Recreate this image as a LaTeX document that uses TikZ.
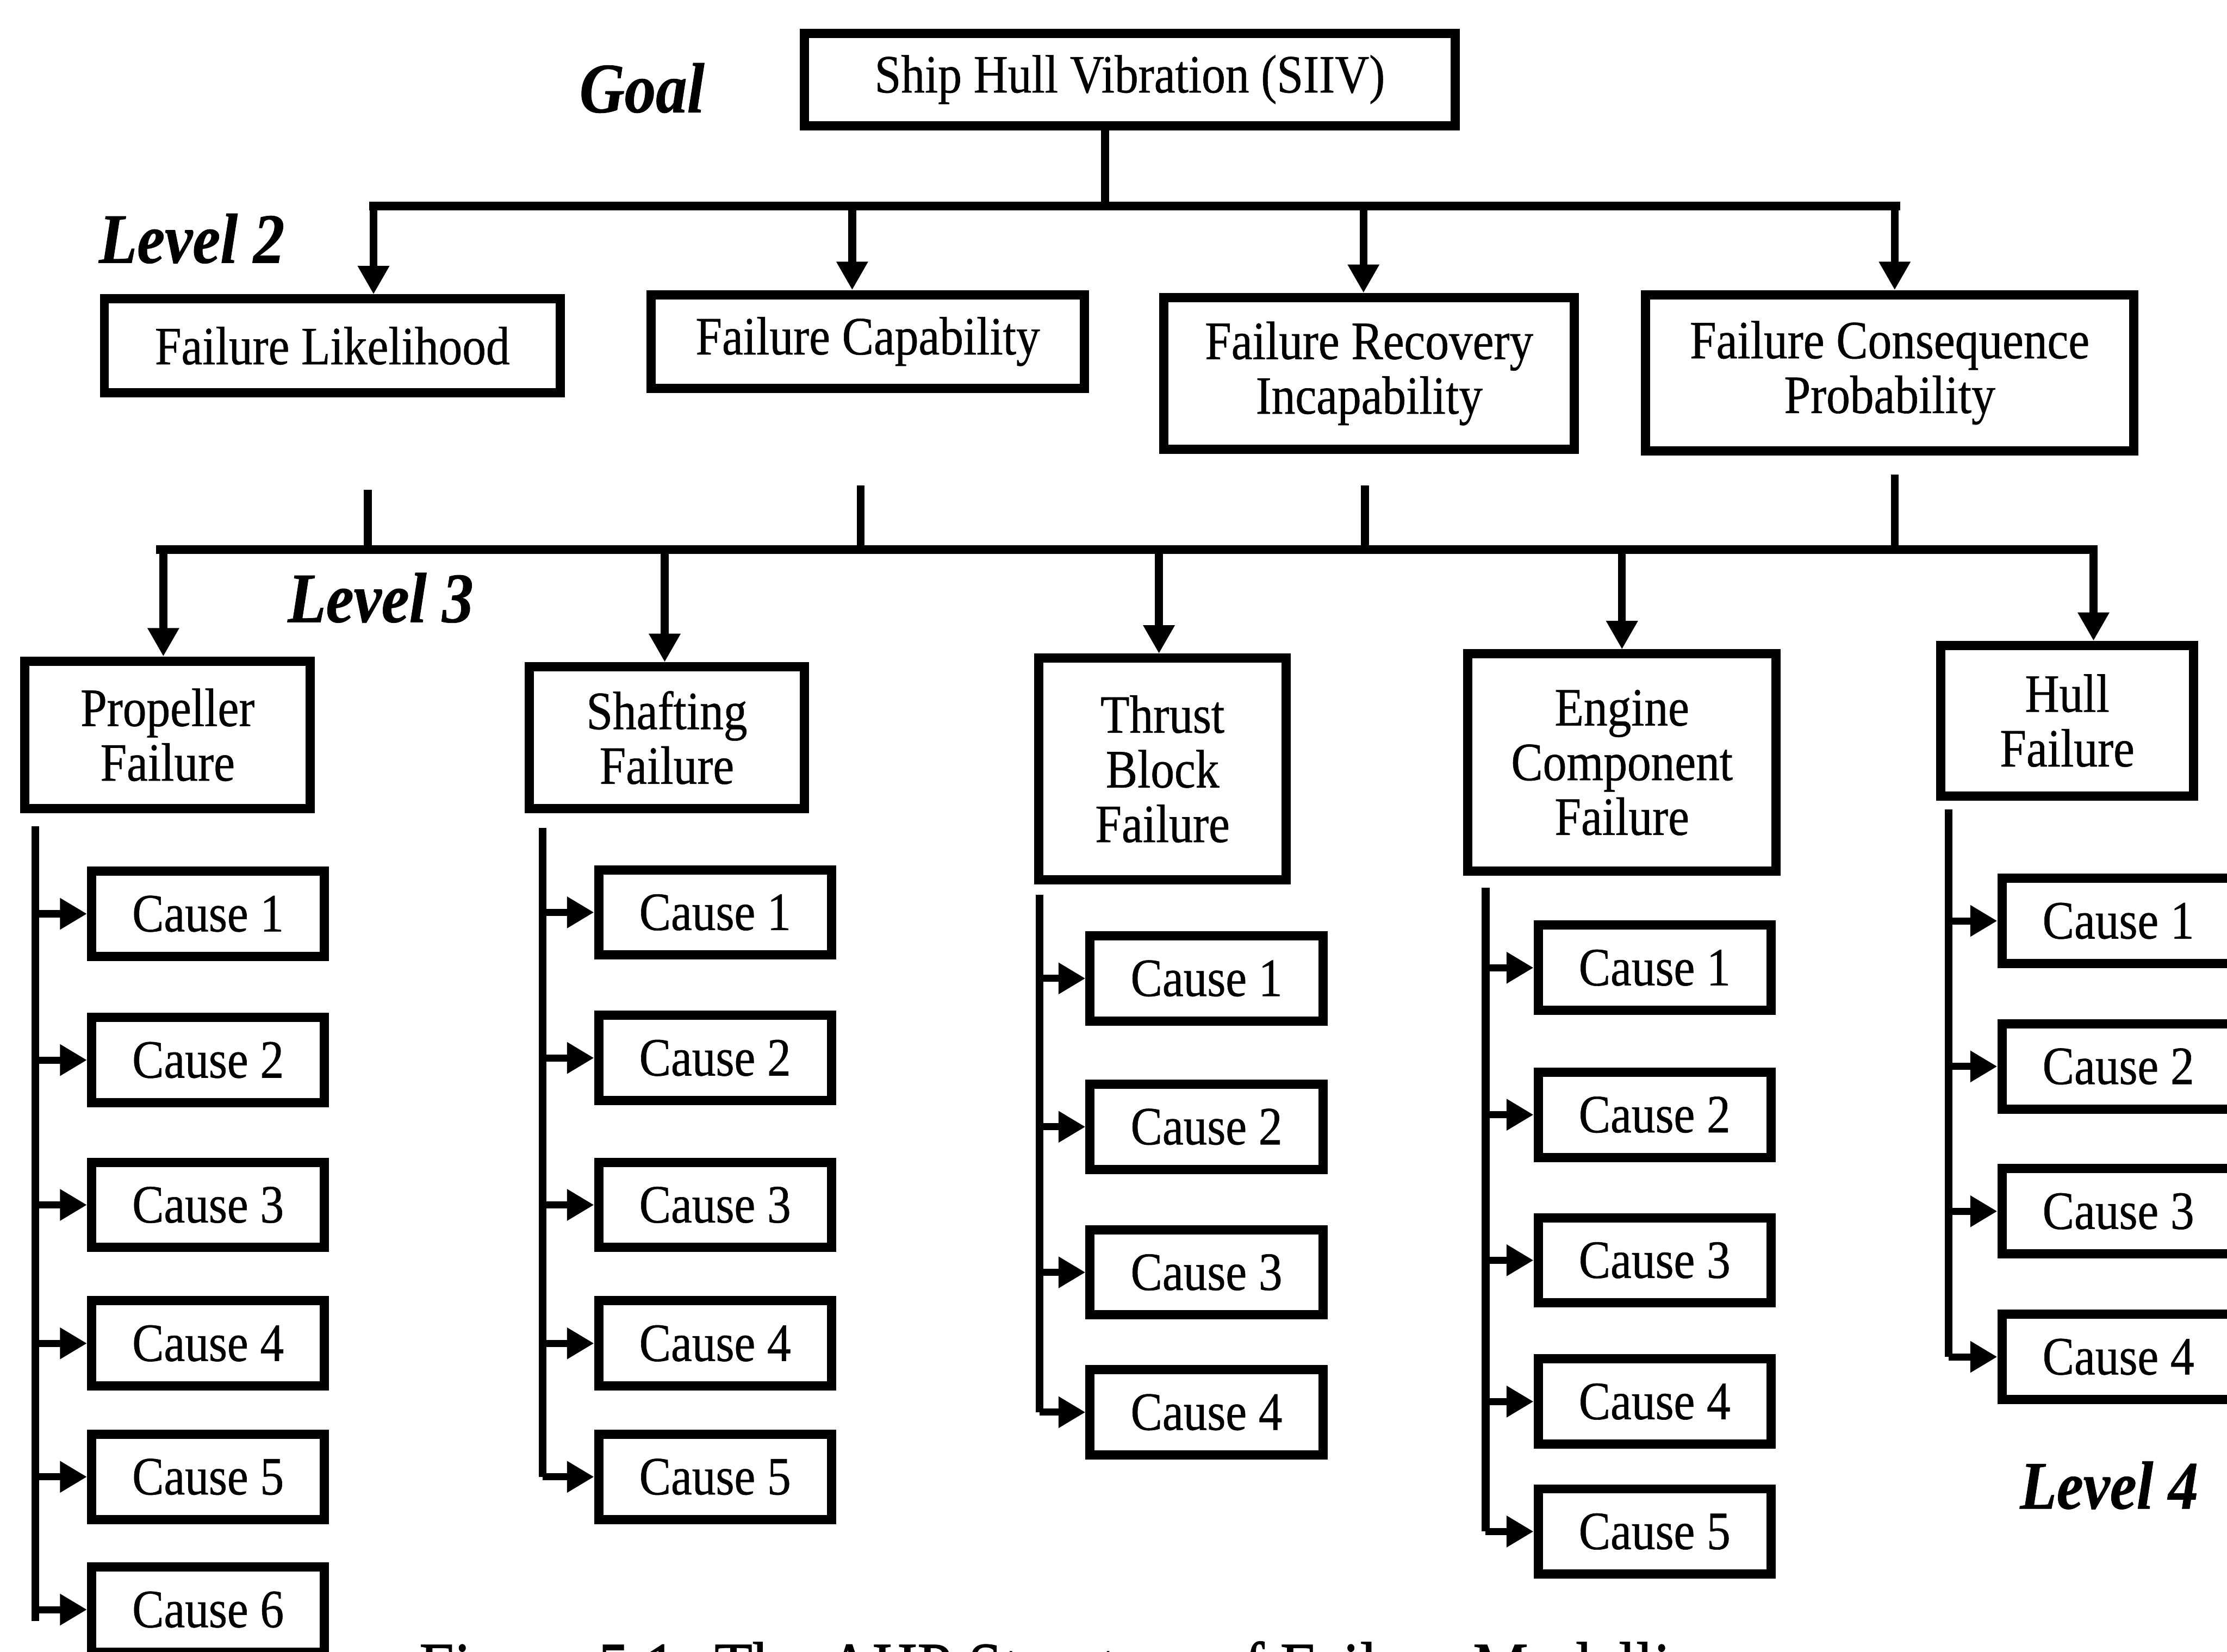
\documentclass[tikz,border=0pt]{standalone}
\usepackage{fontspec}
\setmainfont{Liberation Serif}[FakeStretch=0.88,FakeBold=0.6]
\usetikzlibrary{arrows.meta}
\begin{document}
\begin{tikzpicture}[x=1pt,y=-1pt,
  box/.style={draw,line width=6.5pt,align=center,inner sep=0pt,font=\fontsize{38}{38.5}\selectfont},
  cbox/.style={box,minimum width=164pt,minimum height=60pt},
  lvl/.style={font=\fontsize{50}{52}\selectfont\bfseries\itshape,inner sep=0pt},
  ln/.style={line width=5.5pt},
  bus/.style={line width=6pt,line cap=rect},
  arr/.style={line width=5.5pt,-{Triangle[length=20pt,width=21pt]}},
  carr/.style={line width=5pt,-{Triangle[length=19pt,width=21pt]}},
]
\useasboundingbox (0,0) rectangle (1568,1163);
\clip (0,0) rectangle (1568,1163);
\fill[white] (0,0) rectangle (1568,1163);

% labels
\node[lvl] (lgoal) at (452,62) {Goal};
\node[lvl] (l2) at (135,168) {Level 2};
\node[lvl] (l3) at (268,421) {Level 3};
\node[lvl,font=\fontsize{48}{50}\selectfont\bfseries\itshape] (l4) at (1485,1046) {Level 4};

% goal
\node[box,minimum width=458pt,minimum height=65pt] (top) at (795.5,56) {Ship Hull Vibration (SIIV)};

% level 2
\node[box,minimum width=321pt,minimum height=66pt] (fl) at (234,243.5) {Failure Likelihood};
\node[box,minimum width=305pt,minimum height=66pt] (fc) at (611,240.5) {Failure Capability};
\node[box,minimum width=289pt,minimum height=107pt] (fri) at (964,263) {Failure Recovery\\Incapability};
\node[box,minimum width=344pt,minimum height=110pt] (fcp) at (1330.5,262.5) {Failure Consequence\\Probability};

% level 3
\node[box,minimum width=201pt,minimum height=104pt] (pf) at (118,517.5) {Propeller\\Failure};
\node[box,minimum width=194pt,minimum height=100pt] (sf) at (469.5,519.5) {Shafting\\Failure};
\node[box,minimum width=174pt,minimum height=156pt] (tb) at (818.5,541.5) {Thrust\\Block\\Failure};
\node[box,minimum width=217pt,minimum height=153pt] (ec) at (1142,537) {Engine\\Component\\Failure};
\node[box,minimum width=178pt,minimum height=106pt] (hf) at (1455.5,507.5) {Hull\\Failure};

% goal -> level 2
\coordinate (j0) at (778,145);
\draw[ln] (top.south -| j0) -- (j0);
\coordinate (b2l) at (263,145);
\coordinate (b2r) at (1335,145);
\draw[bus] (b2l) -- (b2r);
\coordinate (a1) at (263,145);
\coordinate (a2) at (600,145);
\coordinate (a3) at (960,145);
\coordinate (a4) at (1334,145);
\draw[arr] (a1) -- (a1 |- fl.north);
\draw[arr] (a2) -- (a2 |- fc.north);
\draw[arr] (a3) -- (a3 |- fri.north);
\draw[arr] (a4) -- (a4 |- fcp.north);

% level 2 -> level 3
\coordinate (b3l) at (113,387);
\coordinate (b3r) at (1474,387);
\draw[bus] (b3l) -- (b3r);
\coordinate (s1) at (259,345);
\coordinate (s2) at (606,342);
\coordinate (s3) at (961,342);
\coordinate (s4) at (1334,334);
\draw[ln] (s1) -- (s1 |- b3l);
\draw[ln] (s2) -- (s2 |- b3l);
\draw[ln] (s3) -- (s3 |- b3l);
\draw[ln] (s4) -- (s4 |- b3l);
\coordinate (c1) at (115,387);
\coordinate (c2) at (468,387);
\coordinate (c3) at (816,387);
\coordinate (c4) at (1142,387);
\coordinate (c5) at (1474,387);
\draw[arr] (c1) -- (c1 |- pf.north);
\draw[arr] (c2) -- (c2 |- sf.north);
\draw[arr] (c3) -- (c3 |- tb.north);
\draw[arr] (c4) -- (c4 |- ec.north);
\draw[arr] (c5) -- (c5 |- hf.north);

% level 4: propeller
\coordinate (vp) at (25,582);
\foreach \i/\y in {1/643.5,2/746.5,3/848.5,4/946,5/1040,6/1133.5}{
  \node[cbox] (p\i) at (146.5,\y) {Cause \i};
  \draw[carr] (p\i.west -| vp) -- (p\i.west);
}
\draw[ln] (vp) -- (vp |- p6.west) -- ++(0,8);

% shafting
\coordinate (vs) at (382,583);
\foreach \i/\y in {1/642.5,2/745,3/848.5,4/946,5/1040}{
  \node[cbox] (s\i) at (503.5,\y) {Cause \i};
  \draw[carr] (s\i.west -| vs) -- (s\i.west);
}
\draw[ln] (vs) -- (vs |- s5.west);

% thrust block
\coordinate (vt) at (732,630);
\foreach \i/\y in {1/689,2/793.5,3/896,4/994.5}{
  \node[cbox] (t\i) at (849.5,\y) {Cause \i};
  \draw[carr] (t\i.west -| vt) -- (t\i.west);
}
\draw[ln] (vt) -- (vt |- t4.west);

% engine
\coordinate (ve) at (1046,625);
\foreach \i/\y in {1/681.5,2/785,3/887.5,4/987,5/1078.5}{
  \node[cbox] (e\i) at (1165,\y) {Cause \i};
  \draw[carr] (e\i.west -| ve) -- (e\i.west);
}
\draw[ln] (ve) -- (ve |- e5.west);

% hull
\coordinate (vh) at (1372,570);
\foreach \i/\y in {1/648.5,2/751,3/853,4/955.5}{
  \node[cbox] (h\i) at (1491.5,\y) {Cause \i};
  \draw[carr] (h\i.west -| vh) -- (h\i.west);
}
\draw[ln] (vh) -- (vh |- h4.west);

% caption (cut off at the bottom edge)
\node[anchor=base west,inner sep=0pt,font=\fontsize{50}{52}\selectfont] (cap) at (295,1191) {Figure 5.1: The AHP Structure of Failure Modelling};
\end{tikzpicture}
\end{document}
